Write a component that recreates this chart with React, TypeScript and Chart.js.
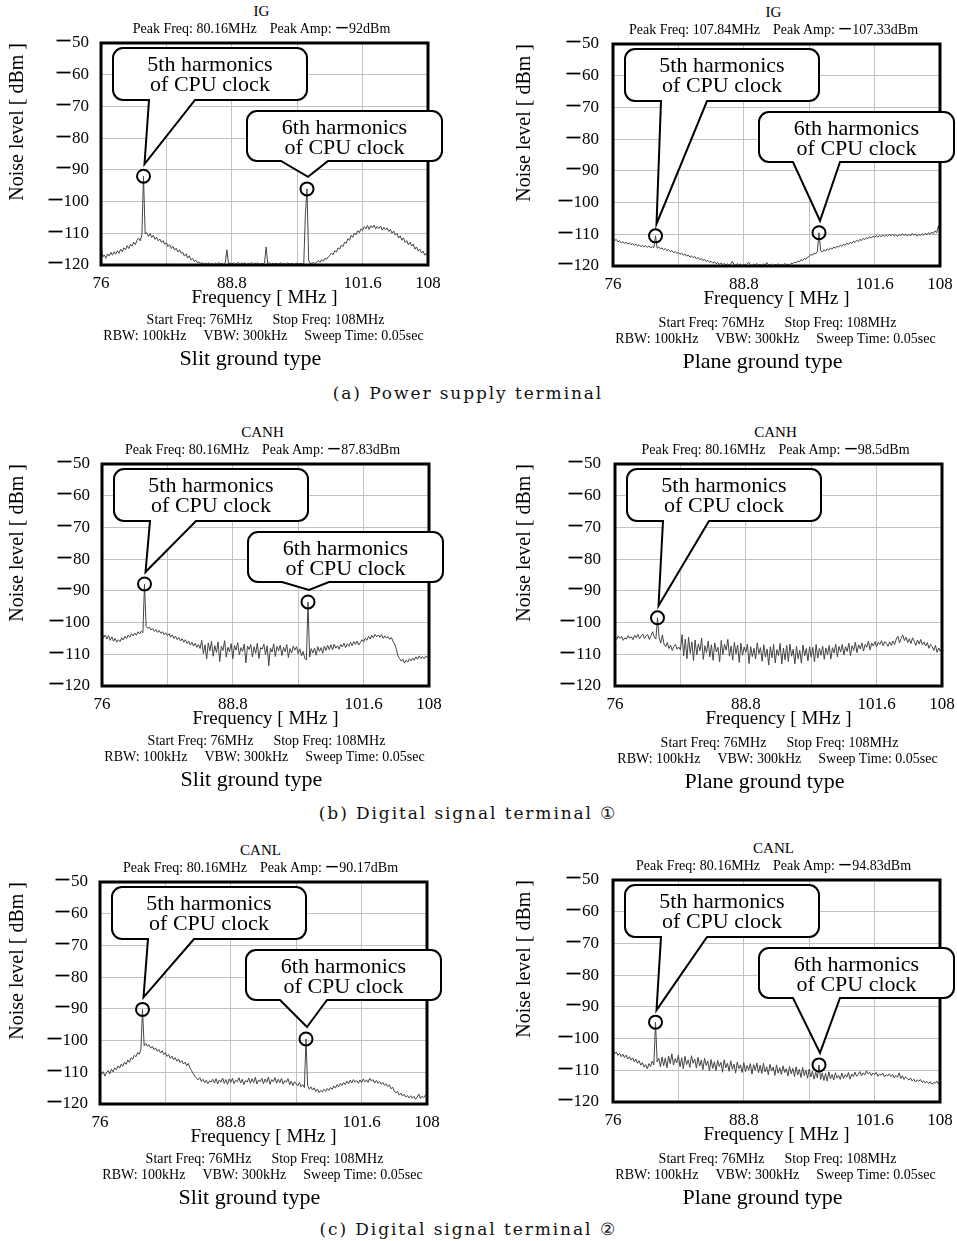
import React, { useEffect, useRef } from "react";
import { Chart, registerables } from "chart.js";

Chart.register(...registerables);

const SERIF = '"Liberation Serif", "Times New Roman", Times, serif';
const MINUS = "\u30FC";
Chart.defaults.font.family = SERIF;

// Sweep settings (Start 76 MHz, Stop 108 MHz)
const START_FREQ = 76;
const STOP_FREQ = 108;
const SWEEP_POINTS = 201;
const FREQS: number[] = Array.from(
  { length: SWEEP_POINTS },
  (_, i) => Math.round((START_FREQ + (i * (STOP_FREQ - START_FREQ)) / (SWEEP_POINTS - 1)) * 100) / 100
);

const X_GRID = [76, 82.4, 88.8, 95.2, 101.6, 108];
const X_TICK_LABELS = ["76", "", "88.8", "", "101.6", "108"];
const Y_TICKS = [-120, -110, -100, -90, -80, -70, -60, -50];

const HARMONIC_5TH = 80.16;
const HARMONIC_6TH = 96.16;

// Noise level [dBm], one value per sweep point
const IG_SLIT = [
  -113.0, -117.5, -116.8, -117.9, -116.5, -117.2, -116.0, -116.9, -115.8, -116.6,
  -115.5, -116.3, -115.0, -115.8, -114.6, -115.2, -113.9, -114.8, -113.5, -114.1,
  -112.8, -113.6, -112.2, -111.5, -112.4, -110.6, -92.0, -110.2, -109.8, -111.0,
  -110.1, -111.3, -110.6, -111.9, -111.2, -112.4, -111.8, -112.9, -112.3, -113.5,
  -113.0, -114.2, -113.6, -114.8, -114.1, -115.3, -114.7, -115.9, -115.2, -116.3,
  -116.0, -117.2, -116.5, -117.8, -117.1, -118.4, -117.9, -118.9, -118.5, -119.3,
  -119.0, -119.6, -119.2, -119.8, -119.4, -119.7, -119.3, -119.8, -119.5, -119.9,
  -119.4, -119.8, -119.2, -119.7, -119.5, -119.8, -119.3, -115.2, -119.6, -119.4,
  -119.7, -119.3, -119.8, -119.5, -119.2, -119.8, -119.4, -119.6, -119.3, -119.8,
  -119.5, -119.7, -119.2, -119.8, -119.4, -119.6, -119.3, -119.8, -119.5, -119.7,
  -119.4, -114.3, -119.6, -119.3, -119.8, -119.5, -119.7, -119.4, -119.8, -119.6,
  -119.3, -119.7, -119.5, -119.8, -119.4, -119.6, -119.7, -119.5, -119.8, -119.6,
  -119.4, -119.7, -119.5, -119.6, -119.8, -104.0, -96.0, -118.5, -119.6, -119.4,
  -119.2, -119.6, -119.0, -118.7, -119.1, -118.3, -118.8, -117.9, -118.2, -117.4,
  -117.0, -116.2, -116.8, -115.5, -115.9, -114.6, -115.0, -113.7, -114.2, -112.8,
  -113.1, -111.7, -112.2, -110.6, -111.3, -109.9, -110.5, -109.2, -109.8, -108.6,
  -109.1, -107.9, -108.6, -107.5, -108.8, -107.6, -108.3, -107.4, -108.7, -107.8,
  -108.5, -107.7, -109.0, -108.1, -108.9, -108.3, -109.4, -108.8, -110.0, -109.3,
  -110.6, -110.0, -111.5, -110.8, -112.2, -111.4, -112.9, -112.3, -113.6, -112.8,
  -114.0, -113.4, -115.0, -114.3, -115.6, -115.0, -116.2, -115.6, -116.9, -116.3,
  -117.5,
];

const IG_PLANE = [
  -111.2, -112.0, -111.6, -112.4, -112.0, -112.7, -112.3, -112.9, -112.5, -113.1,
  -112.7, -113.3, -112.9, -113.5, -113.1, -113.7, -113.3, -113.9, -113.5, -114.0,
  -113.6, -114.1, -113.7, -114.3, -113.9, -114.2, -110.5, -114.4, -114.0, -114.6,
  -114.3, -114.9, -114.5, -115.2, -114.8, -115.5, -115.1, -115.8, -115.4, -116.0,
  -115.7, -116.3, -115.9, -116.6, -116.2, -116.9, -116.5, -117.2, -116.8, -117.4,
  -117.0, -117.7, -117.3, -118.0, -117.6, -118.3, -117.9, -118.6, -118.2, -118.8,
  -118.5, -119.1, -118.7, -119.3, -118.9, -119.5, -119.0, -119.6, -119.2, -119.7,
  -119.3, -119.8, -119.4, -118.6, -119.5, -119.8, -119.2, -119.7, -119.4, -119.9,
  -119.5, -119.8, -119.3, -118.8, -119.6, -119.9, -119.4, -119.7, -119.2, -119.8,
  -119.5, -119.9, -119.3, -119.7, -118.9, -119.6, -119.8, -119.4, -119.9, -119.5,
  -119.7, -119.3, -119.8, -119.5, -119.9, -119.2, -119.6, -119.4, -119.8, -119.1,
  -119.3, -118.7, -119.0, -118.4, -118.7, -118.0, -118.3, -117.6, -117.9, -117.2,
  -117.0, -116.3, -116.6, -115.9, -116.2, -115.4, -109.5, -115.2, -115.6, -114.9,
  -115.3, -114.6, -115.0, -114.3, -114.7, -114.0, -114.4, -113.7, -114.1, -113.4,
  -113.8, -113.1, -113.5, -112.8, -113.2, -112.5, -112.9, -112.2, -112.6, -111.9,
  -112.3, -111.6, -112.0, -111.3, -111.7, -111.0, -111.4, -110.8, -111.2, -110.6,
  -111.0, -110.4, -110.9, -110.3, -110.8, -110.2, -110.7, -110.1, -110.6, -110.0,
  -110.5, -109.9, -110.6, -110.1, -110.7, -110.0, -110.5, -109.8, -110.4, -109.9,
  -110.6, -110.0, -110.5, -109.7, -110.3, -109.9, -110.6, -110.1, -110.4, -109.8,
  -110.3, -109.6, -110.2, -109.5, -110.0, -109.3, -109.8, -108.9, -109.5, -107.33,
  -109.2,
];

const CANH_SLIT = [
  -103.4, -104.8, -103.9, -105.2, -104.1, -105.6, -104.5, -105.9, -105.0, -106.2,
  -105.4, -106.0, -104.8, -105.5, -104.3, -105.1, -103.9, -104.6, -103.5, -104.2,
  -103.3, -104.0, -102.9, -103.6, -102.7, -103.2, -87.83, -101.2, -101.8, -101.5,
  -102.3, -101.9, -102.8, -102.2, -103.1, -102.5, -103.4, -102.9, -103.8, -103.2,
  -104.1, -103.5, -104.6, -103.9, -105.0, -104.3, -105.4, -104.7, -105.8, -105.1,
  -106.2, -105.4, -106.6, -105.8, -107.1, -106.2, -107.4, -106.5, -107.8, -106.9,
  -108.2, -105.6, -109.8, -107.0, -111.5, -106.4, -108.9, -105.9, -110.6, -107.3,
  -109.4, -106.1, -112.3, -107.5, -108.8, -105.7, -110.9, -107.8, -109.2, -106.6,
  -111.4, -107.2, -108.7, -106.3, -110.2, -107.9, -109.1, -106.8, -112.7, -107.4,
  -108.5, -106.9, -110.8, -107.6, -109.7, -106.5, -111.3, -107.9, -108.4, -106.8,
  -110.1, -107.3, -113.6, -108.0, -109.3, -106.7, -110.7, -107.5, -108.9, -107.1,
  -110.4, -107.8, -109.2, -106.9, -111.0, -108.2, -109.6, -107.4, -108.7, -107.6,
  -109.8, -108.3, -110.5, -109.1, -111.2, -111.8, -93.5, -110.9, -108.2, -109.6,
  -108.0, -110.3, -107.6, -109.1, -107.9, -109.7, -107.4, -108.8, -107.2, -108.5,
  -107.0, -108.6, -106.8, -108.1, -107.3, -108.4, -106.9, -107.7, -106.5, -107.9,
  -106.7, -107.5, -106.2, -107.3, -106.0, -106.9, -105.8, -107.1, -106.3, -105.4,
  -106.1, -104.9, -105.6, -104.3, -105.2, -104.0, -104.8, -103.7, -104.5, -103.9,
  -104.6, -103.8, -105.0, -104.2, -104.9, -104.4, -105.3, -104.7, -105.9, -106.8,
  -108.4, -110.5, -111.3, -112.2, -111.6, -112.8, -111.9, -112.5, -111.4, -112.1,
  -111.2, -111.9, -110.8, -111.6, -110.5, -111.3, -110.7, -111.4, -110.6, -111.0,
  -110.5,
];

const CANH_PLANE = [
  -104.6, -105.3, -104.2, -105.0, -104.4, -105.6, -104.8, -105.2, -104.1, -104.9,
  -104.5, -105.4, -104.0, -104.8, -103.7, -105.1, -104.3, -103.6, -105.0, -104.2,
  -103.8, -105.3, -104.1, -102.9, -104.6, -105.2, -98.5, -104.8, -106.4, -103.9,
  -106.8, -107.6, -106.3, -108.2, -107.1, -108.8, -107.5, -106.9, -108.4, -107.7,
  -108.6, -103.8, -110.5, -105.2, -111.4, -104.6, -109.7, -106.1, -112.0, -105.5,
  -110.2, -106.7, -108.9, -104.9, -111.6, -107.3, -109.5, -105.8, -110.8, -107.0,
  -111.9, -106.4, -109.3, -107.8, -112.4, -105.6, -110.1, -106.9, -108.7, -105.3,
  -110.6, -107.4, -111.8, -106.2, -109.9, -107.1, -112.6, -106.5, -110.3, -107.7,
  -109.4, -106.8, -112.9, -107.6, -110.7, -108.1, -111.5, -106.4, -109.8, -107.9,
  -112.2, -107.0, -110.9, -108.3, -113.4, -107.6, -111.1, -106.9, -112.7, -108.5,
  -110.4, -106.6, -113.1, -108.0, -111.7, -107.2, -112.3, -106.8, -110.6, -108.4,
  -113.0, -107.5, -111.4, -108.7, -112.8, -107.1, -110.5, -108.2, -112.1, -107.6,
  -110.9, -107.8, -112.4, -106.9, -111.2, -108.1, -110.3, -107.4, -111.6, -108.0,
  -110.1, -107.2, -111.5, -107.9, -109.6, -106.8, -110.8, -107.5, -109.3, -106.9,
  -110.2, -107.6, -109.1, -106.5, -110.4, -107.3, -108.8, -106.2, -109.5, -107.0,
  -108.3, -106.4, -109.0, -106.9, -107.8, -105.8, -108.6, -106.5, -107.4, -106.0,
  -107.6, -106.2, -106.9, -105.7, -107.3, -106.0, -106.6, -107.5, -106.1, -107.2,
  -105.8, -106.9, -105.2, -104.3, -106.4, -105.0, -103.9, -105.7, -104.6, -106.3,
  -105.1, -106.6, -104.8, -105.9, -107.2, -105.5, -106.8, -105.3, -107.0, -106.1,
  -107.4, -106.3, -108.1, -106.9, -107.6, -108.8, -107.2, -109.4, -108.0, -109.1,
  -107.9,
];

const CANL_SLIT = [
  -109.3, -110.6, -109.8, -111.2, -110.1, -109.4, -110.5, -109.0, -109.9, -108.6,
  -109.2, -108.0, -108.7, -107.4, -108.1, -106.8, -107.5, -106.1, -106.9, -105.4,
  -105.9, -104.6, -105.1, -103.8, -104.3, -102.9, -90.17, -101.6, -100.9, -101.8,
  -101.3, -102.4, -101.8, -102.9, -102.3, -103.4, -102.8, -103.9, -103.2, -104.4,
  -103.8, -105.0, -104.4, -105.6, -104.9, -106.1, -105.4, -106.5, -105.8, -106.9,
  -106.3, -107.4, -106.8, -107.9, -107.2, -108.6, -109.5, -110.4, -111.2, -111.9,
  -112.4, -111.7, -112.9, -112.2, -113.3, -112.5, -113.6, -112.7, -113.1, -112.2,
  -113.4, -112.0, -113.7, -112.4, -113.1, -111.8, -113.5, -112.3, -113.8, -112.1,
  -113.2, -111.9, -113.6, -112.5, -113.0, -111.7, -113.4, -112.2, -113.9, -112.6,
  -113.1, -111.8, -113.5, -112.0, -113.3, -111.6, -113.7, -112.4, -113.0, -111.9,
  -113.6, -112.1, -113.2, -111.5, -113.8, -112.3, -113.0, -111.7, -113.5, -112.2,
  -113.3, -111.9, -113.7, -112.6, -113.1, -112.0, -113.9, -112.8, -114.2, -113.0,
  -113.6, -114.3, -113.2, -114.6, -113.9, -114.8, -99.5, -114.2, -115.3, -114.6,
  -115.6, -114.9, -116.1, -115.3, -116.4, -115.7, -116.2, -115.4, -116.0, -115.1,
  -115.7, -114.8, -115.4, -114.3, -115.0, -113.9, -114.6, -113.5, -114.2, -113.2,
  -113.9, -112.8, -113.6, -112.5, -113.4, -112.3, -113.1, -112.6, -113.5, -112.4,
  -113.3, -112.1, -113.0, -112.4, -113.2, -111.9, -112.8, -112.3, -113.4, -112.6,
  -113.5, -112.9, -113.8, -113.2, -114.1, -113.6, -114.5, -114.0, -115.2, -114.7,
  -115.9, -116.5, -116.0, -117.2, -116.6, -117.5, -116.9, -117.8, -117.3, -118.1,
  -117.4, -118.2, -117.6, -118.5, -117.8, -116.9, -118.3, -117.5, -118.0, -117.2,
  -117.6,
];

const CANL_PLANE = [
  -103.9, -104.8, -104.2, -105.3, -104.6, -105.7, -104.9, -106.0, -105.2, -106.4,
  -105.7, -106.8, -106.1, -107.3, -106.5, -107.8, -107.0, -108.4, -107.6, -109.0,
  -108.2, -109.5, -107.9, -108.8, -107.1, -108.3, -94.83, -107.4, -106.2, -108.9,
  -105.8, -108.6, -106.1, -109.2, -105.5, -107.9, -104.8, -108.4, -106.3, -107.7,
  -105.2, -108.9, -106.0, -109.5, -105.6, -108.2, -106.7, -109.1, -105.4, -107.8,
  -106.5, -109.3, -105.9, -108.7, -106.8, -109.8, -106.2, -108.5, -107.1, -110.2,
  -106.6, -109.4, -107.3, -110.1, -106.9, -108.8, -107.5, -110.6, -106.7, -109.2,
  -107.8, -110.3, -107.0, -109.7, -108.1, -110.9, -107.4, -109.5, -108.3, -110.7,
  -107.6, -110.4, -108.5, -109.9, -107.9, -111.2, -108.2, -110.0, -107.7, -110.8,
  -108.4, -111.0, -107.8, -110.5, -108.9, -111.4, -108.1, -110.2, -109.0, -111.6,
  -108.3, -110.9, -109.2, -111.3, -108.6, -110.7, -109.5, -111.8, -108.8, -111.1,
  -109.4, -112.0, -108.9, -111.5, -109.7, -112.3, -109.1, -111.7, -110.0, -112.5,
  -109.6, -112.1, -110.3, -112.8, -110.6, -112.4, -108.3, -112.9, -110.8, -113.2,
  -111.0, -113.4, -110.5, -112.7, -111.3, -113.1, -110.8, -112.5, -111.6, -112.9,
  -110.9, -112.6, -111.4, -112.2, -110.7, -112.8, -111.2, -112.0, -110.6, -111.9,
  -111.3, -110.4, -111.8, -110.8, -111.5, -110.2, -111.1, -110.6, -111.7, -110.9,
  -111.4, -110.7, -111.9, -111.2, -111.6, -110.9, -112.1, -111.4, -111.8, -111.1,
  -112.0, -111.3, -112.4, -111.6, -112.2, -110.8, -112.6, -111.7, -112.9, -112.1,
  -112.6, -113.1, -112.4, -113.4, -112.8, -113.7, -113.0, -113.5, -112.9, -113.8,
  -113.3, -114.0, -113.5, -114.2, -113.6, -114.4, -113.9, -114.1, -113.4, -114.3,
  -113.8,
];

const TERMINALS = ["IG", "IG", "CANH", "CANH", "CANL", "CANL"];
const GROUND_TYPES = ["Slit ground type", "Plane ground type", "Slit ground type", "Plane ground type", "Slit ground type", "Plane ground type"];
const PEAK_FREQS = ["80.16", "107.84", "80.16", "80.16", "80.16", "80.16"];
const PEAK_AMPS = ["92", "107.33", "87.83", "98.5", "90.17", "94.83"];
const TRACES = [IG_SLIT, IG_PLANE, CANH_SLIT, CANH_PLANE, CANL_SLIT, CANL_PLANE];
const MARKED = [
  [HARMONIC_5TH, HARMONIC_6TH],
  [HARMONIC_5TH, HARMONIC_6TH],
  [HARMONIC_5TH, HARMONIC_6TH],
  [HARMONIC_5TH],
  [HARMONIC_5TH, HARMONIC_6TH],
  [HARMONIC_5TH, HARMONIC_6TH],
];
const CAPTIONS = ["(a) Power supply terminal", "(b) Digital signal terminal \u2460", "(c) Digital signal terminal \u2461"];

// ---- layout (pixels) ----
const PLOT_W = 327;
const PLOT_H = 222;
const PAD_TOP = 12;
const X_AXIS_H = 48;
const CANVAS_H = PAD_TOP + PLOT_H + X_AXIS_H + 4;
const LAYOUT = [
  { plotLeft: 101, plotTop: 43, canvasLeft: 0, canvasWidth: 460 },
  { plotLeft: 613, plotTop: 44, canvasLeft: 500, canvasWidth: 457 },
  { plotLeft: 102, plotTop: 464, canvasLeft: 0, canvasWidth: 460 },
  { plotLeft: 615, plotTop: 464, canvasLeft: 500, canvasWidth: 457 },
  { plotLeft: 100, plotTop: 882, canvasLeft: 0, canvasWidth: 460 },
  { plotLeft: 613, plotTop: 880, canvasLeft: 500, canvasWidth: 457 },
];
const CAPTION_Y = [393, 813, 1229];

// balloon boxes, relative to the plot's top-left corner
const BALLOONS: Record<string, { x0: number; y0: number; x1: number; y1: number; b0: number; b1: number; label: string }> = {
  "80.16": { x0: 12, y0: 5, x1: 206, y1: 57, b0: 48, b1: 94, label: "5th harmonics" },
  "96.16": { x0: 146, y0: 68, x1: 341, y1: 118, b0: 180, b1: 227, label: "6th harmonics" },
};

const framePlugin = {
  id: "frame",
  afterDatasetsDraw(chart: any) {
    const { ctx, chartArea: a } = chart;
    ctx.save();
    ctx.strokeStyle = "#000";
    ctx.lineWidth = 3;
    ctx.strokeRect(a.left, a.top, a.right - a.left, a.bottom - a.top);
    ctx.restore();
  },
};

const balloonPlugin = {
  id: "balloons",
  afterDraw(chart: any, _args: any, opts: any) {
    const { ctx, chartArea: a, scales } = chart;
    const values = chart.data.datasets[0].data as number[];
    for (const f of opts.freqs as number[]) {
      const idx = FREQS.indexOf(f);
      const cx = scales.x.getPixelForValue(f);
      const cy = scales.y.getPixelForValue(values[idx]);
      const b = BALLOONS[f.toFixed(2)];
      const x0 = a.left + b.x0, x1 = a.left + b.x1, y0 = a.top + b.y0, y1 = a.top + b.y1;
      const bx0 = a.left + b.b0, bx1 = a.left + b.b1;
      const tx = cx + 1, ty = cy - 12;
      const r = 10;
      ctx.save();
      ctx.beginPath();
      ctx.moveTo(x0 + r, y0);
      ctx.lineTo(x1 - r, y0);
      ctx.arcTo(x1, y0, x1, y0 + r, r);
      ctx.lineTo(x1, y1 - r);
      ctx.arcTo(x1, y1, x1 - r, y1, r);
      ctx.lineTo(bx1, y1);
      ctx.lineTo(tx, ty);
      ctx.lineTo(bx0, y1);
      ctx.lineTo(x0 + r, y1);
      ctx.arcTo(x0, y1, x0, y1 - r, r);
      ctx.lineTo(x0, y0 + r);
      ctx.arcTo(x0, y0, x0 + r, y0, r);
      ctx.closePath();
      ctx.fillStyle = "#fff";
      ctx.fill();
      ctx.lineWidth = 2;
      ctx.lineJoin = "miter";
      ctx.strokeStyle = "#000";
      ctx.stroke();
      ctx.fillStyle = "#000";
      ctx.font = `22px ${SERIF}`;
      ctx.textAlign = "center";
      ctx.textBaseline = "middle";
      const mx = (x0 + x1) / 2;
      ctx.fillText(b.label, mx, y0 + 17);
      ctx.fillText("of CPU clock", mx, y0 + 37);
      ctx.beginPath();
      ctx.arc(cx, cy, 6.5, 0, Math.PI * 2);
      ctx.lineWidth = 2;
      ctx.stroke();
      ctx.restore();
    }
  },
};

function Txt({ x, y, size, children }: { x: number; y: number; size: number; children: React.ReactNode }) {
  return (
    <div
      style={{
        position: "absolute",
        left: x,
        top: y,
        transform: "translate(-50%, -50%)",
        whiteSpace: "pre",
        fontFamily: SERIF,
        fontSize: size,
        lineHeight: 1,
        color: "#000",
      }}
    >
      {children}
    </div>
  );
}

function Panel({ i }: { i: number }) {
  const ref = useRef<HTMLCanvasElement>(null);
  const L = LAYOUT[i];
  const isLeft = L.canvasLeft === 0;
  const axisW = L.plotLeft - L.canvasLeft;
  const padRight = L.canvasWidth - axisW - PLOT_W;

  useEffect(() => {
    let dead = false;
    const chart = new Chart(ref.current as HTMLCanvasElement, {
      type: "line",
      data: {
        labels: FREQS,
        datasets: [
          {
            data: TRACES[i],
            borderColor: "#444",
            borderWidth: 1,
            pointRadius: 0,
            tension: 0,
            fill: false,
          },
        ],
      },
      options: {
        animation: false,
        responsive: false,
        devicePixelRatio: 1,
        events: [],
        layout: { padding: { top: PAD_TOP, right: padRight, left: 0, bottom: CANVAS_H - PAD_TOP - PLOT_H - X_AXIS_H } },
        plugins: {
          legend: { display: false },
          tooltip: { enabled: false },
          balloons: { freqs: MARKED[i] },
        } as any,
        scales: {
          x: {
            type: "linear",
            min: START_FREQ,
            max: STOP_FREQ,
            afterBuildTicks: (s: any) => {
              s.ticks = X_GRID.map((value) => ({ value }));
            },
            afterFit: (s: any) => {
              s.height = X_AXIS_H;
              s.paddingLeft = 0;
              s.paddingRight = 0;
              s.paddingTop = 0;
              s.paddingBottom = 0;
            },
            grid: { color: "#c2c2c2", lineWidth: 1, drawTicks: false },
            border: { display: false },
            ticks: {
              autoSkip: false,
              maxRotation: 0,
              padding: 8,
              color: "#000",
              font: { family: SERIF, size: 17 },
              callback: (_v: any, idx: number) => X_TICK_LABELS[idx],
            },
            title: {
              display: true,
              text: "Frequency [ MHz ]",
              color: "#000",
              font: { family: SERIF, size: 19 },
              padding: { top: 0, bottom: 4 },
            },
          },
          y: {
            type: "linear",
            min: -120,
            max: -50,
            afterBuildTicks: (s: any) => {
              s.ticks = Y_TICKS.map((value) => ({ value }));
            },
            afterFit: (s: any) => {
              s.width = axisW;
              s.paddingLeft = 0;
              s.paddingRight = 0;
              s.paddingTop = 0;
              s.paddingBottom = 0;
            },
            grid: { color: "#c2c2c2", lineWidth: 1, drawTicks: false },
            border: { display: false },
            ticks: {
              padding: isLeft ? 12 : 14,
              color: "#000",
              font: { family: SERIF, size: 17 },
              callback: (v: any) => MINUS + String(-Number(v)),
            },
            title: {
              display: true,
              text: "Noise level [ dBm ]",
              align: "end",
              color: "#000",
              font: { family: SERIF, size: 20 },
              padding: { top: isLeft ? 6 : 13, bottom: 0 },
            },
          },
        },
      } as any,
      plugins: [framePlugin, balloonPlugin],
    });
    const redraw = () => {
      if (!dead) chart.update();
    };
    const fs = (document as any).fonts;
    if (fs) {
      fs.load(`17px "Liberation Serif"`).then(redraw, redraw);
      fs.load(`22px "Liberation Serif"`, "5th harmonics").then(redraw, redraw);
      fs.load(`17px "Noto Sans CJK JP"`, MINUS).then(redraw, redraw);
      fs.ready.then(redraw, redraw);
    }
    requestAnimationFrame(redraw);
    const t1 = setTimeout(redraw, 50);
    const t2 = setTimeout(redraw, 300);
    return () => {
      dead = true;
      clearTimeout(t1);
      clearTimeout(t2);
      chart.destroy();
    };
  }, []);

  const cx = L.plotLeft + PLOT_W / 2;
  const T = L.plotTop;
  const d = isLeft ? 0 : 2;
  return (
    <>
      <canvas
        ref={ref}
        width={L.canvasWidth}
        height={CANVAS_H}
        style={{ position: "absolute", left: L.canvasLeft, top: T - PAD_TOP, width: L.canvasWidth, height: CANVAS_H }}
      />
      <Txt x={cx - 3} y={T - 32} size={15}>{TERMINALS[i]}</Txt>
      <Txt x={cx - 3} y={T - 14} size={14}>
        {`Peak Freq: ${PEAK_FREQS[i]}MHz`}
        <span style={{ marginLeft: 13 }}>{`Peak Amp: ${MINUS}${PEAK_AMPS[i]}dBm`}</span>
      </Txt>
      <Txt x={cx + 1} y={T + 277 + d} size={14}>
        {"Start Freq: 76MHz"}
        <span style={{ marginLeft: 20 }}>{"Stop Freq: 108MHz"}</span>
      </Txt>
      <Txt x={cx - 1} y={T + 293 + d} size={14}>
        {"RBW: 100kHz"}
        <span style={{ marginLeft: 17 }}>{"VBW: 300kHz"}</span>
        <span style={{ marginLeft: 17 }}>{"Sweep Time: 0.05sec"}</span>
      </Txt>
      <Txt x={cx - 14} y={T + 315 + d} size={22}>{GROUND_TYPES[i]}</Txt>
    </>
  );
}

export default function App() {
  return (
    <div style={{ position: "absolute", left: 0, top: 0, width: 957, height: 1241, background: "#fff", overflow: "hidden" }}>
      {LAYOUT.map((_, i) => (
        <Panel key={i} i={i} />
      ))}
      {CAPTIONS.map((c, k) => (
        <div
          key={k}
          style={{
            position: "absolute",
            left: 468,
            top: CAPTION_Y[k],
            transform: "translate(-50%, -50%)",
            whiteSpace: "pre",
            fontFamily: '"DejaVu Serif", serif',
            fontSize: 17,
            letterSpacing: 1.9,
            lineHeight: 1,
            color: "#111",
          }}
        >
          {c}
        </div>
      ))}
    </div>
  );
}
